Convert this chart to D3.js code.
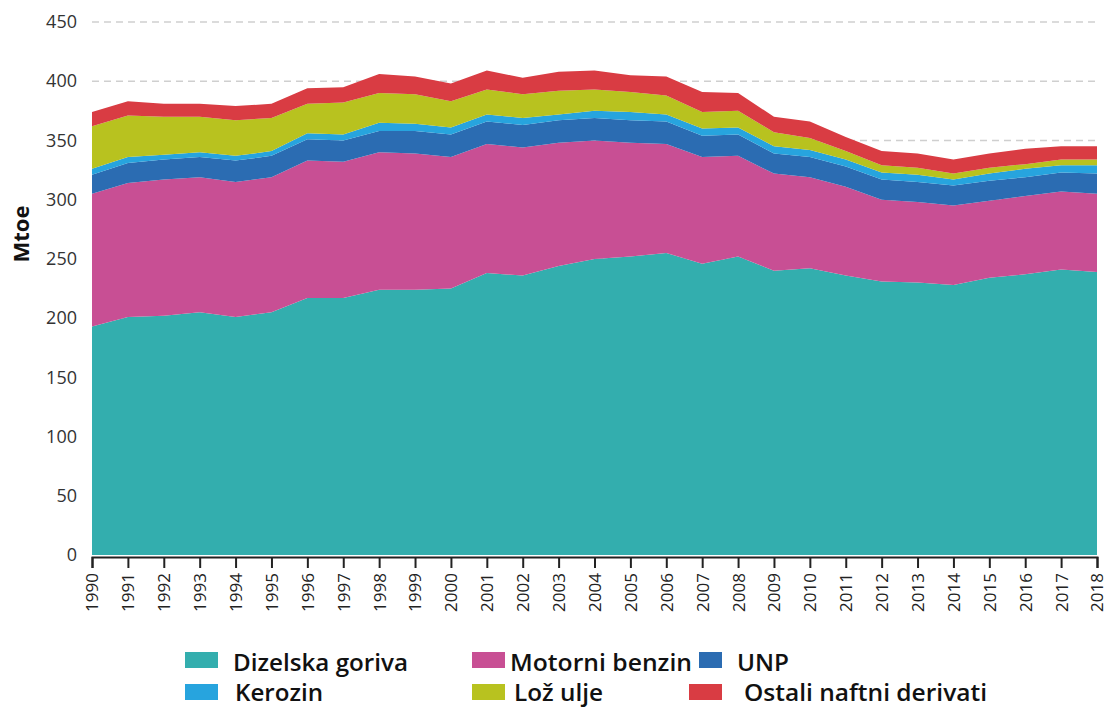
<!DOCTYPE html>
<html>
<head>
<meta charset="utf-8">
<script src="https://cdn.jsdelivr.net/npm/d3@7"></script>
<style>
  body { margin: 0; background: #fff; }
  svg { display: block; font-family: "Open Sans", sans-serif; }
</style>
</head>
<body>
<div id="chart"></div>
<script>
// Data (Mtoe)
let years = d3.range(1990, 2019);
let dizel   = [193,201,202,205,201,205,217,217,224,224,225,238,236,244,250,252,255,246,252,240,242,236,231,230,228,234,237,241,239];
let motorni = [112,113,115,114,114,114,116,115,116,115,111,109,108,104,100,96,92,90,85,82,77,75,69,68,67,65,66,66,66];
let unp     = [16,17,17,17,18,18,18,18,18,19,19,19,19,19,19,19,19,18,18,17,17,17,17,17,17,17,16,16,17];
let kerozin = [5,5,4,4,4,4,5,5,7,6,6,6,6,5,6,7,6,6,6,6,6,6,6,6,5,6,7,6,7];
let loz     = [36,35,32,30,30,28,25,27,25,25,22,21,20,20,18,17,16,14,14,12,10,7,6,6,5,5,4,5,5];
let ostali  = [12,12,11,11,12,12,13,13,16,15,15,16,14,16,16,14,16,17,15,13,14,12,12,12,12,12,13,11,11];
let yTicks = [0,50,100,150,200,250,300,350,400,450];

let keys = ["dizel", "motorni", "unp", "kerozin", "loz", "ostali"];
let labels = {
	dizel: "Dizelska goriva", motorni: "Motorni benzin", unp: "UNP",
	kerozin: "Kerozin", loz: "Lož ulje", ostali: "Ostali naftni derivati"
};
let colors = {
	dizel: "#33aeae", motorni: "#c84f94", unp: "#2b6cb2",
	kerozin: "#27a4de", loz: "#b8c21f", ostali: "#d93c43"
};
let series = {dizel, motorni, unp, kerozin, loz, ostali};

let rows = years.map(function(y, i) {
	let r = {year: y};
	keys.forEach(function(k) { r[k] = series[k][i]; });
	return r;
});

let W = 1108, H = 707;
let svg = d3.select("#chart").append("svg")
	.attr("width", W)
	.attr("height", H);

let x = d3.scaleLinear().domain([1990, 2018]).range([92, 1097]);
let y = d3.scaleLinear().domain([0, 450]).range([555, 22]);

// dashed grid
svg.append("g")
	.selectAll("line")
	.data(yTicks.filter(d => d > 0))
	.join("line")
	.attr("x1", 92).attr("x2", 1097)
	.attr("y1", d => y(d)).attr("y2", d => y(d))
	.attr("stroke", "#cfcfcf")
	.attr("stroke-width", 1.5)
	.attr("stroke-dasharray", "7,5");

// stacked areas
let stack = d3.stack().keys(keys)(rows);
let area = d3.area()
	.x(d => x(d.data.year))
	.y0(d => y(d[0]))
	.y1(d => y(d[1]));

svg.append("g")
	.selectAll("path")
	.data(stack)
	.join("path")
	.attr("fill", d => colors[d.key])
	.attr("d", area);

// y axis (labels only)
let yAxis = svg.append("g")
	.attr("transform", "translate(92,0)")
	.call(d3.axisLeft(y).tickValues(yTicks).tickSize(0).tickPadding(15));
yAxis.select(".domain").remove();
yAxis.selectAll("text")
	.attr("font-size", 18)
	.attr("font-family", "Open Sans, sans-serif")
	.attr("fill", "#333");

// x axis
let xAxis = svg.append("g")
	.attr("transform", "translate(0,557)")
	.call(d3.axisBottom(x).tickValues(years).tickFormat(d3.format("d")).tickSizeOuter(0).tickSize(11));
xAxis.select(".domain").attr("stroke", "#222").attr("stroke-width", 2);
xAxis.selectAll(".tick line").attr("stroke", "#222").attr("stroke-width", 2);
xAxis.selectAll("text")
	.attr("font-size", 17)
	.attr("font-family", "Open Sans, sans-serif")
	.attr("fill", "#222")
	.attr("text-anchor", "end")
	.attr("transform", "rotate(-90)")
	.attr("x", -16)
	.attr("y", 0)
	.attr("dy", "0.35em");

// y title
svg.append("text")
	.attr("transform", "translate(29,234) rotate(-90)")
	.attr("text-anchor", "middle")
	.attr("font-size", 22)
	.attr("font-weight", "bold")
	.attr("fill", "#111")
	.text("Mtoe");

// legend
let legend = [
	{key: "dizel",   sx: 185, sw: 33, tx: 233, tw: 175, row: 0},
	{key: "motorni", sx: 472, sw: 33, tx: 510, tw: 182, row: 0},
	{key: "unp",     sx: 699, sw: 23, tx: 737, tw: 52,  row: 0},
	{key: "kerozin", sx: 185, sw: 33, tx: 235, tw: 88,  row: 1},
	{key: "loz",     sx: 472, sw: 33, tx: 514, tw: 89,  row: 1},
	{key: "ostali",  sx: 689, sw: 33, tx: 744, tw: 243, row: 1}
];
let lg = svg.append("g")
	.selectAll("g")
	.data(legend)
	.join("g")
	.attr("transform", d => "translate(0," + (d.row ? 684 : 652) + ")");
lg.append("rect")
	.attr("x", d => d.sx)
	.attr("y", 0)
	.attr("width", d => d.sw)
	.attr("height", 16)
	.attr("fill", d => colors[d.key]);
lg.append("text")
	.attr("x", d => d.tx)
	.attr("y", d => d.row ? 17 : 19)
	.attr("font-size", 23)
	.attr("font-weight", 600)
	.attr("font-family", "Open Sans, sans-serif")
	.attr("fill", "#111")
	.attr("textLength", d => d.tw)
	.attr("lengthAdjust", "spacingAndGlyphs")
	.text(d => labels[d.key]);
</script>
</body>
</html>
